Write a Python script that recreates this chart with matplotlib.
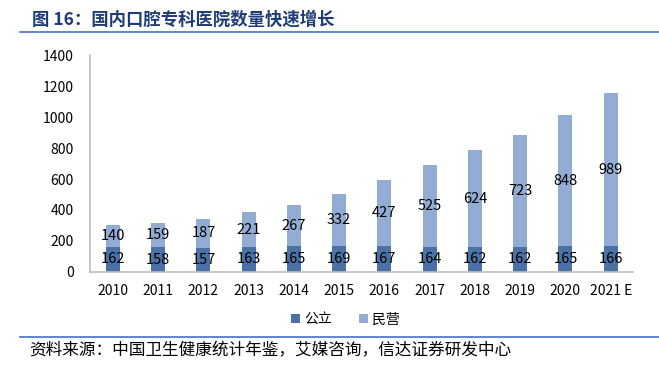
import matplotlib
matplotlib.use("Agg")
import matplotlib.pyplot as plt
import numpy as np
from matplotlib.lines import Line2D

plt.rcParams['font.family'] = ['Noto Sans CJK SC', 'DejaVu Sans']

years = ['2010', '2011', '2012', '2013', '2014', '2015', '2016', '2017', '2018', '2019', '2020', '2021 E']
public = [162, 158, 157, 163, 165, 169, 167, 164, 162, 162, 165, 166]
private = [140, 159, 187, 221, 267, 332, 427, 525, 624, 723, 848, 989]
series_names = ['公立', '民营']
title = '图 16：国内口腔专科医院数量快速增长'
source = '资料来源：中国卫生健康统计年鉴，艾媒咨询，信达证券研发中心'

c_dark = '#4A72A6'
c_light = '#93ACD3'

fig = plt.figure(figsize=(6.59, 3.65), dpi=100)
ax = fig.add_axes([0.137, 0.255, 0.824, 0.594])

x = np.arange(len(years))
w = 0.31
ax.bar(x, public, w, color=c_dark, label=series_names[0], zorder=2)
ax.bar(x, private, w, bottom=public, color=c_light, label=series_names[1], zorder=2)

for xi, p, q in zip(x, public, private):
    ax.text(xi, p / 2, str(p), ha='center', va='center', fontsize=10.5, color='black', zorder=3)
    ax.text(xi, p + q / 2, str(q), ha='center', va='center', fontsize=10.5, color='black', zorder=3)

ax.set_ylim(0, 1400)
ax.set_yticks(range(0, 1401, 200))
ax.set_xlim(-0.5, len(years) - 0.5)
ax.set_xticks(x)
ax.set_xticklabels(years)
ax.tick_params(axis='both', length=0, labelsize=10, colors='black')
ax.tick_params(axis='y', pad=12)
ax.tick_params(axis='x', pad=9)
for s in ['top', 'right']:
    ax.spines[s].set_visible(False)
for s in ['left', 'bottom']:
    ax.spines[s].set_color('#BFBFBF')
    ax.spines[s].set_linewidth(1.2)

ax.legend(loc='upper center', bbox_to_anchor=(0.47, -0.13), ncol=2, frameon=False,
          fontsize=10, handlelength=0.6, handleheight=0.6, columnspacing=2.0, handletextpad=0.3)

fig.text(0.048, 0.945, title, fontsize=12.5, fontweight='bold', color='#1F3C78', va='center')
fig.add_artist(Line2D([0.03, 1.0], [0.912, 0.912], color='#4472C4', lw=1.2))
fig.add_artist(Line2D([0.03, 1.0], [0.077, 0.077], color='#4472C4', lw=1.2))
fig.text(0.045, 0.038, source, fontsize=12, color='black', va='center', style='italic')

fig.savefig('out.png', dpi=100)
